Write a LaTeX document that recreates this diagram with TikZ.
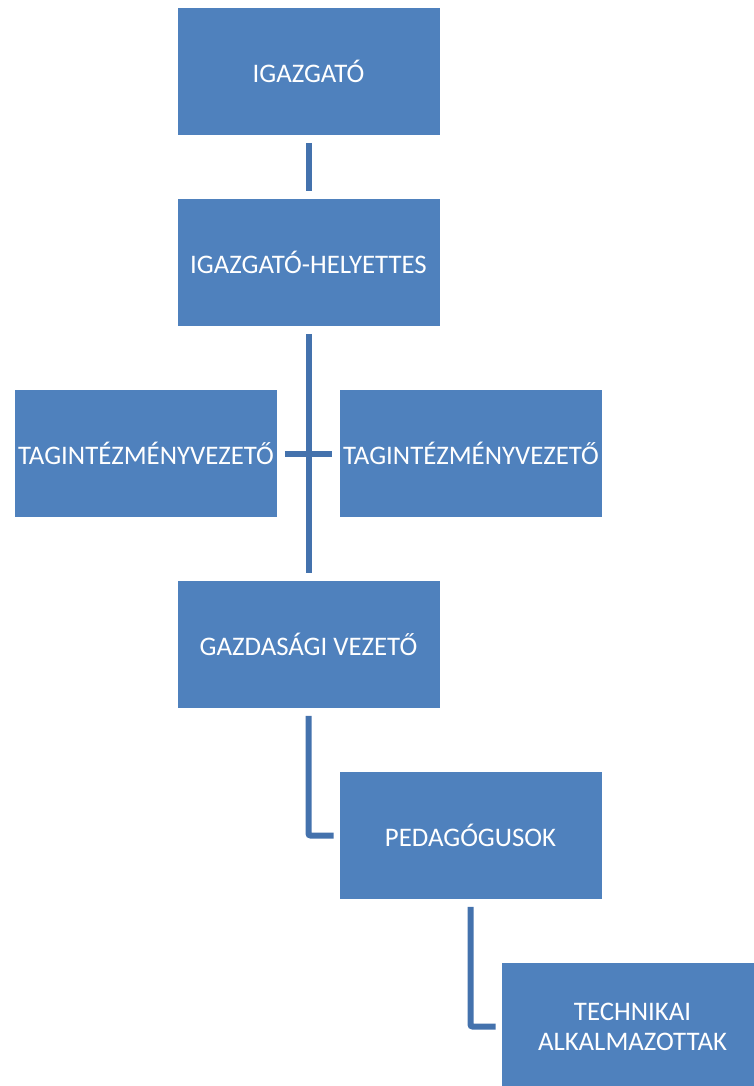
\documentclass[tikz,border=0pt]{standalone}
\usepackage{fontspec}
\setmainfont{Carlito}
\usepackage{tikz}
\usetikzlibrary{calc}
\definecolor{boxblue}{HTML}{4F81BD}
\definecolor{lineblue}{HTML}{4472AD}
\tikzstyle{box}=[draw=white, line width=0.6pt, fill=boxblue, text=white,
  minimum width=263pt, minimum height=128pt, inner sep=1pt, align=center,
  font=\fontsize{26.8}{30}\selectfont]
\tikzstyle{conn}=[draw=lineblue, line width=6pt, rounded corners=2pt]

\begin{document}
\begin{tikzpicture}[node distance=191pt]
      \useasboundingbox (0pt,0pt) rectangle (753pt,-1086pt);
      \node [box] (igazgato) at (308.5pt,-71.5pt) {IGAZGATÓ};
      \node [box] (helyettes) [below of=igazgato] {IGAZGATÓ-HELYETTES};
      \node (mid) [below of=helyettes, coordinate] {};
      \node [box] (tagbal) [left of=mid, node distance=162.5pt] {TAGINTÉZMÉNYVEZETŐ};
      \node [box] (tagjobb) [right of=mid, node distance=162.5pt] {TAGINTÉZMÉNYVEZETŐ};
      \node [box] (gazdasagi) [below of=mid] {GAZDASÁGI VEZETŐ};
      \node (mid2) [below of=gazdasagi, coordinate] {};
      \node [box] (pedagogus) [right of=mid2, node distance=162pt] {PEDAGÓGUSOK};
      \node (mid3) [below of=pedagogus, coordinate] {};
      \node [box] (technikai) [right of=mid3, node distance=162pt] {TECHNIKAI\\ALKALMAZOTTAK};

      % connectors
      \draw[conn, shorten <=7pt, shorten >=7pt] (igazgato) -- (helyettes);
      \draw[conn, shorten <=7pt, shorten >=7pt] (helyettes) -- (gazdasagi);
      \draw[conn, shorten <=7pt, shorten >=7pt] (tagbal) -- (tagjobb);
      \draw[conn] ([yshift=-7pt]gazdasagi.south) |- ([xshift=-5pt]pedagogus.west);
      \draw[conn] ([yshift=-7pt]pedagogus.south) |- ([xshift=-5pt]technikai.west);
\end{tikzpicture}
\end{document}
